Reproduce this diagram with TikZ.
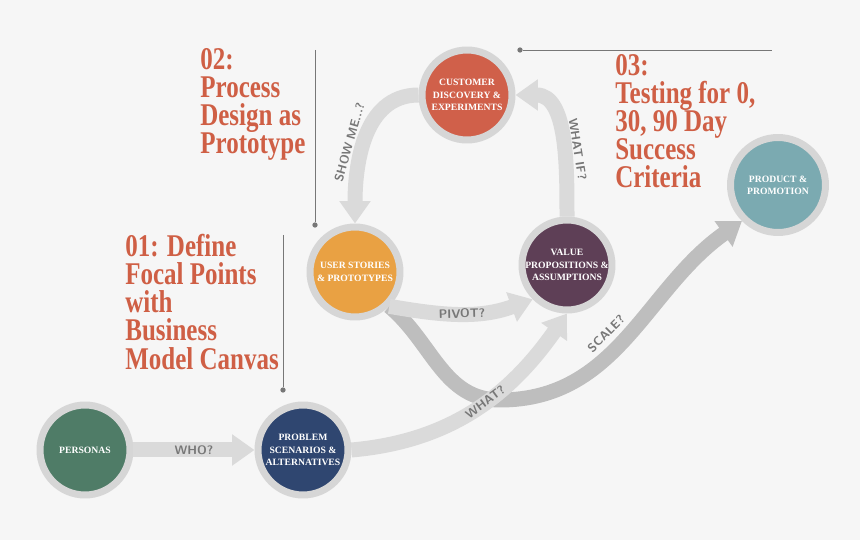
\documentclass[tikz,border=0pt]{standalone}
\usepackage{fontspec}
\setmainfont{Liberation Serif}
\newfontfamily\ttlfont[FakeStretch=0.79]{Liberation Serif}
\usetikzlibrary{arrows.meta,positioning}
\definecolor{bgc}{HTML}{F6F6F6}
\definecolor{ring}{HTML}{D6D6D6}
\definecolor{lgr}{HTML}{DADADA}
\definecolor{dgr}{HTML}{BEBEBE}
\definecolor{txt}{HTML}{777777}
\definecolor{rust}{HTML}{CF5F45}
\definecolor{cgreen}{HTML}{4F7C67}
\definecolor{cnavy}{HTML}{2F4670}
\definecolor{corange}{HTML}{E9A143}
\definecolor{cred}{HTML}{D0604A}
\definecolor{cplum}{HTML}{5E3F56}
\definecolor{cteal}{HTML}{7BAAB1}
\begin{document}
\begin{tikzpicture}
  [
   x=0.02cm,y=-0.02cm,
   st/.style={circle,draw=ring,line width=0.14cm,inner sep=0pt,minimum size=1.8cm,
     text=white,align=center,font=\bfseries\fontsize{5.5}{7}\selectfont},
   lar/.style={line width=0.3cm,draw=lgr,-{Triangle[length=0.45cm,width=0.6cm]}},
   dar/.style={line width=0.3cm,draw=dgr,-{Triangle[length=0.45cm,width=0.6cm]}},
   lab/.style={sloped,text=txt,font=\sffamily\bfseries\fontsize{7}{8}\selectfont},
   ttl/.style={anchor=north west,align=left,text=rust,inner sep=0pt,
     font=\ttlfont\bfseries\fontsize{18}{16}\selectfont},
   gl/.style={draw=txt,line width=0.5pt},
   dot/.style={circle,fill=txt,inner sep=0pt,minimum size=3pt}
  ]
   \fill[bgc] (0,0) rectangle (860,540);

   \node[st,fill=cgreen]  (pers) at (85,450)  {PERSONAS};
   \node[st,fill=cnavy]   (prob) at (303,450) {PROBLEM\\SCENARIOS \&\\ALTERNATIVES};
   \node[st,fill=corange] (user) at (355,272) {USER STORIES\\\& PROTOTYPES};
   \node[st,fill=cred]    (cust) at (467,95)  {CUSTOMER\\DISCOVERY \&\\EXPERIMENTS};
   \node[st,fill=cplum]   (valu) at (567,265) {VALUE\\PROPOSITIONS \&\\ASSUMPTIONS};
   \node[st,fill=cteal,minimum size=1.9cm] (prod) at (778,185) {PRODUCT \&\\PROMOTION};

   % arrows
   \draw[dar] (user.south east) to[out=-40,in=180] (500,400) to[out=0,in=215]
     node[lab,pos=0.45,above] {SCALE?} (prod.south west);
   \draw[lar] (user.south east) to[out=-10,in=200] node[lab,midway] {PIVOT?} (valu.south west);
   \draw[lar] (pers) -- node[lab] {WHO?} (prob);
   \draw[lar] (prob.east) to[out=5,in=235] node[lab,pos=0.55] {WHAT?} (valu.south);
   \draw[lar] (valu.north) to[out=90,in=0] node[lab,pos=0.4,above=-2pt] {WHAT IF?} (cust.east);
   \draw[lar] (cust.west) to[out=180,in=90] node[lab,pos=0.55,above=-2pt] {SHOW ME...?} (user.north);

   % titles
   \node[ttl] (t2) at (200,48)  {02:\\Process\\Design as\\Prototype};
   \node[ttl] (t1) at (125,234) {01: Define\\Focal Points\\with\\Business\\Model Canvas};
   \node[ttl] (t3) at (615,54)  {03:\\Testing for 0,\\30, 90 Day\\Success\\Criteria};

   % guide lines
   \node[dot] (d2) at (315,225) {};
   \coordinate (e2) at (315,50);
   \draw[gl] (e2) -- (d2);
   \node[dot] (d1) at (283,390) {};
   \coordinate (e1) at (283,235);
   \draw[gl] (e1) -- (d1);
   \node[dot] (d3) at (520,50) {};
   \coordinate (e3) at (772,50);
   \draw[gl] (d3) -- (e3);
\end{tikzpicture}
\end{document}
